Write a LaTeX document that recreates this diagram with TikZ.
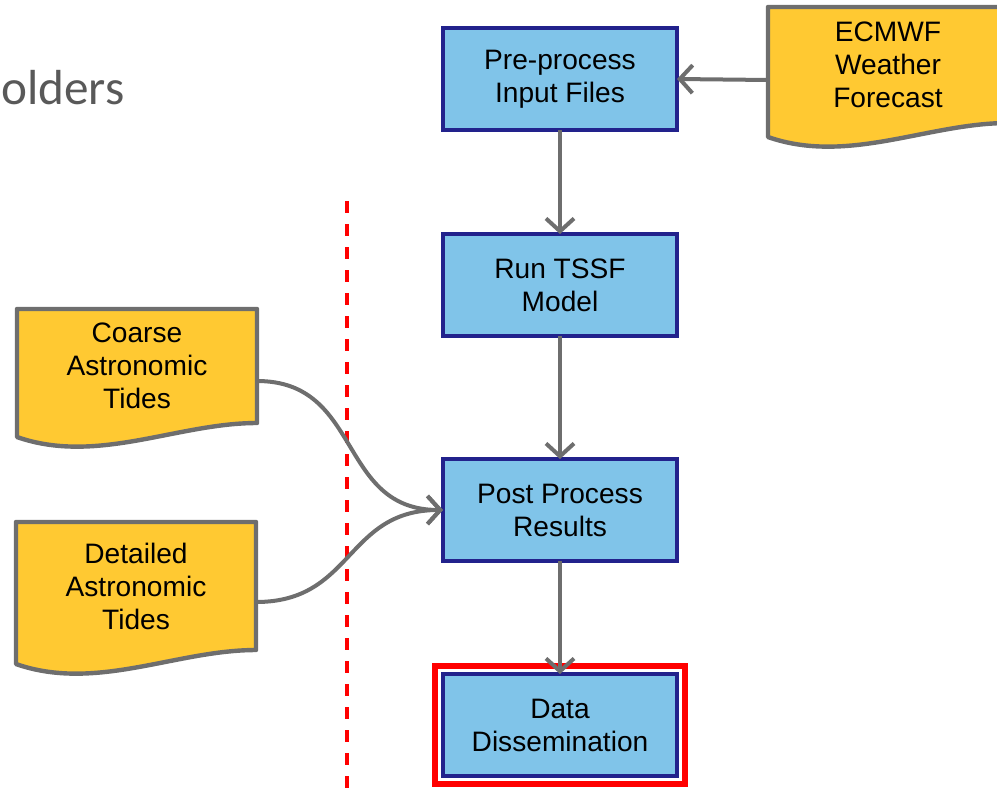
\documentclass[tikz,border=0pt]{standalone}
\usepackage{fontspec}
\setmainfont{Liberation Sans}
\newfontfamily\titlefont{Carlito}
\usetikzlibrary{arrows.meta,backgrounds}

\definecolor{boxblue}{RGB}{128,196,233}
\definecolor{boxedge}{RGB}{34,34,140}
\definecolor{docyellow}{RGB}{255,201,50}
\definecolor{lineg}{RGB}{110,110,110}
\definecolor{titlegray}{RGB}{89,89,89}

\tikzset{
  procbox/.style={draw=boxedge, fill=boxblue, line width=0.1cm,
    minimum width=5.85cm, minimum height=2.55cm, align=center,
    outer sep=0pt, font=\fontsize{20}{23.5}\selectfont},
  docbox/.style={minimum width=6cm, align=center, outer sep=0pt,
    font=\fontsize{20}{23.5}\selectfont},
  docshape/.style={draw=lineg, fill=docyellow, line width=0.11cm, line join=round},
  flow/.style={draw=lineg, line width=0.1cm,
    -{Straight Barb[length=0.32cm,width=0.7cm]}},
}

\begin{document}
\begin{tikzpicture}[x=0.025cm, y=-0.025cm]
    \useasboundingbox (0,0) rectangle (997,799);

    \node[anchor=base west, inner sep=0pt, text=titlegray,
        font=\titlefont\fontsize{35}{42}\selectfont] (title) at (1,105) {olders};

    % process steps
    \node[procbox] (prep) at (560,79) {Pre-process\\Input Files};
    \node[procbox] (run) at (560,285) {Run TSSF\\Model};
    \node[procbox] (post) at (560,510) {Post Process\\Results};
    \node[procbox] (dissem) at (560,725) {Data\\Dissemination};
    \draw[red, line width=0.16cm] ([shift={(-8,-8)}]dissem.north west)
        rectangle ([shift={(8,8)}]dissem.south east);

    % input documents
    \node[docbox, minimum height=2.9cm] (ecmwf) at (888,65) {ECMWF\\Weather\\Forecast};
    \node[docbox, minimum height=2.85cm] (coarse) at (137,366) {Coarse\\Astronomic\\Tides};
    \node[docbox, minimum height=3.2cm] (detail) at (136,586) {Detailed\\Astronomic\\Tides};
    \begin{scope}[on background layer]
        \foreach \d in {ecmwf,coarse,detail}
            \draw[docshape] (\d.south east) -- (\d.north east) -- (\d.north west)
                -- ([yshift=-0.35cm]\d.south west)
                .. controls +(2cm,-0.7cm) and +(-2cm,0cm) .. (\d.south east) -- cycle;
    \end{scope}

    \draw[red, line width=0.12cm, dash pattern=on 0.3cm off 0.275cm] (347,201) -- (347,799);

    \draw[flow] ([yshift=-0.375cm]ecmwf.west) -- (prep.east);
    \draw[flow] (prep) -- (run);
    \draw[flow] (run) -- (post);
    \draw[flow] (post) -- (dissem);
    \draw[flow] ([yshift=-0.375cm]coarse.east) to[out=0, in=180, looseness=1.2] (post.west);
    \draw[flow] ([yshift=-0.4cm]detail.east) to[out=0, in=180, looseness=1.2] (post.west);
\end{tikzpicture}
\end{document}
